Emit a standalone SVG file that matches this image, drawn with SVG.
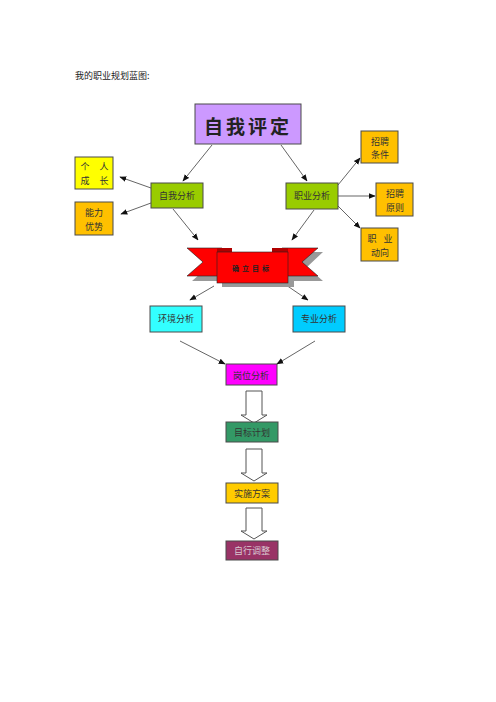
<svg xmlns="http://www.w3.org/2000/svg" width="496" height="702" viewBox="0 0 496 702">
<style>
.box{stroke:#4a4a4a;stroke-width:1}
.t{font-family:"Noto Sans CJK SC","Liberation Sans",sans-serif;font-size:9px;fill:#333;text-anchor:middle;dominant-baseline:central}
.ln{stroke:#222;stroke-width:0.7;fill:none;marker-end:url(#ah)}
.blk{fill:#fff;stroke:#555;stroke-width:1}
</style>
<defs>
<marker id="ah" viewBox="0 0 10 10" refX="9" refY="5" markerWidth="7" markerHeight="7" orient="auto" markerUnits="userSpaceOnUse">
<path d="M0,1 L10,5 L0,9 z" fill="#111"/>
</marker>
</defs>
<rect width="496" height="702" fill="#fff"/>
<text x="75" y="75" style="font-family:'Noto Sans CJK SC',serif;font-size:9px;fill:#222;dominant-baseline:central">我的职业规划蓝图:</text>

<g id="connectors">
<line class="ln" x1="212" y1="145" x2="183" y2="181"/>
<line class="ln" x1="281" y1="145" x2="307" y2="181"/>
<line class="ln" x1="151" y1="188" x2="120" y2="177"/>
<line class="ln" x1="151" y1="203" x2="121" y2="214"/>
<line class="ln" x1="173" y1="209" x2="198" y2="240"/>
<line class="ln" x1="338" y1="185" x2="360" y2="158"/>
<line class="ln" x1="338" y1="196" x2="375" y2="196"/>
<line class="ln" x1="338" y1="206" x2="360" y2="228"/>
<line class="ln" x1="314" y1="210" x2="292" y2="240"/>
<line class="ln" x1="214" y1="286" x2="190" y2="300"/>
<line class="ln" x1="286" y1="285" x2="308" y2="300"/>
<line class="ln" x1="180" y1="341" x2="225" y2="364"/>
<line class="ln" x1="315" y1="341" x2="277" y2="364"/>
<path class="blk" d="M246,391 H262 V415 H267 L254,423 L241,415 H246 Z"/>
<path class="blk" d="M246,449 H262 V473 H267 L254,481 L241,473 H246 Z"/>
<path class="blk" d="M246,508 H262 V531 H267 L254,539 L241,531 H246 Z"/>
</g>

<g id="n-ziwopingding">
<rect class="box" x="195" y="104" width="106" height="40" fill="#cc99ff"/>
<text x="248" y="125" style="font-family:'Noto Sans CJK SC',serif;font-size:19px;font-weight:bold;fill:#222;text-anchor:middle;dominant-baseline:central;letter-spacing:3px">自我评定</text>
</g>
<g id="n-gerenchengzhang">
<rect class="box" x="75" y="157" width="38" height="32" fill="#ffff00"/>
<text class="t" x="85" y="166">个</text><text class="t" x="104" y="166">人</text>
<text class="t" x="85" y="180">成</text><text class="t" x="104" y="180">长</text>
</g>
<g id="n-nengliyoushi">
<rect class="box" x="75" y="202" width="38" height="33" fill="#ffc000"/>
<text class="t" x="94" y="212">能力</text>
<text class="t" x="94" y="226">优势</text>
</g>
<g id="n-ziwofenxi">
<rect class="box" x="151" y="183" width="52" height="25" fill="#99cc00"/>
<text class="t" x="177" y="195">自我分析</text>
</g>
<g id="n-zhiyefenxi">
<rect class="box" x="286" y="183" width="52" height="26" fill="#99cc00"/>
<text class="t" x="312" y="195">职业分析</text>
</g>
<g id="n-zhaopintiaojian">
<rect class="box" x="361" y="131" width="37" height="32" fill="#ffc000"/>
<text class="t" x="380" y="141">招聘</text>
<text class="t" x="380" y="154">条件</text>
</g>
<g id="n-zhaopinyuanze">
<rect class="box" x="376" y="183" width="37" height="33" fill="#ffc000"/>
<text class="t" x="395" y="193">招聘</text>
<text class="t" x="395" y="207">原则</text>
</g>
<g id="n-zhiyedongxiang">
<rect class="box" x="361" y="228" width="37" height="33" fill="#ffc000"/>
<text class="t" x="372" y="238">职</text><text class="t" x="388" y="238">业</text>
<text class="t" x="380" y="252">动向</text>
</g>

<g id="n-queli">
<polygon points="192,252 227,252 227,281 192,281 208,267" fill="#999"/>
<polygon points="323,252 287,252 287,281 323,281 307,267" fill="#999"/>
<rect x="222" y="257" width="72" height="30" fill="#999"/>
<polygon points="187,248 222,248 222,276 187,276 203,262" fill="#ff0000" stroke="#222" stroke-width="0.6"/>
<polygon points="318,248 282,248 282,276 318,276 302,262" fill="#ff0000" stroke="#222" stroke-width="0.6"/>
<polygon points="217,248 232,248 232,253 217,253" fill="#b00000"/>
<polygon points="272,248 288,248 288,253 272,253" fill="#b00000"/>
<rect x="217" y="252" width="71" height="31" fill="#ff0000" stroke="#222" stroke-width="0.6"/>
<text x="252" y="268" style="font-family:'Noto Sans CJK SC',serif;font-size:7px;font-weight:bold;fill:#222;text-anchor:middle;dominant-baseline:central;letter-spacing:3px">确立目标</text>
</g>

<g id="n-huanjingfenxi">
<rect class="box" x="150" y="306" width="52" height="26" fill="#33ffff"/>
<text class="t" x="176" y="318">环境分析</text>
</g>
<g id="n-zhuanyefenxi">
<rect class="box" x="293" y="306" width="52" height="26" fill="#00ccff"/>
<text class="t" x="319" y="318">专业分析</text>
</g>
<g id="n-gangweifenxi">
<rect class="box" x="226" y="364" width="51" height="21" fill="#ff00ff"/>
<text class="t" x="251" y="375">岗位分析</text>
</g>
<g id="n-mubiaojihua">
<rect class="box" x="226" y="422" width="52" height="20" fill="#339966"/>
<text class="t" x="252" y="432">目标计划</text>
</g>
<g id="n-shishifangan">
<rect class="box" x="226" y="483" width="52" height="20" fill="#ffcc00"/>
<text class="t" x="252" y="493">实施方案</text>
</g>
<g id="n-zixingtiaozheng">
<rect class="box" x="226" y="541" width="52" height="19" fill="#993366"/>
<text class="t" x="252" y="550" style="fill:#d8c8d0">自行调整</text>
</g>
</svg>
